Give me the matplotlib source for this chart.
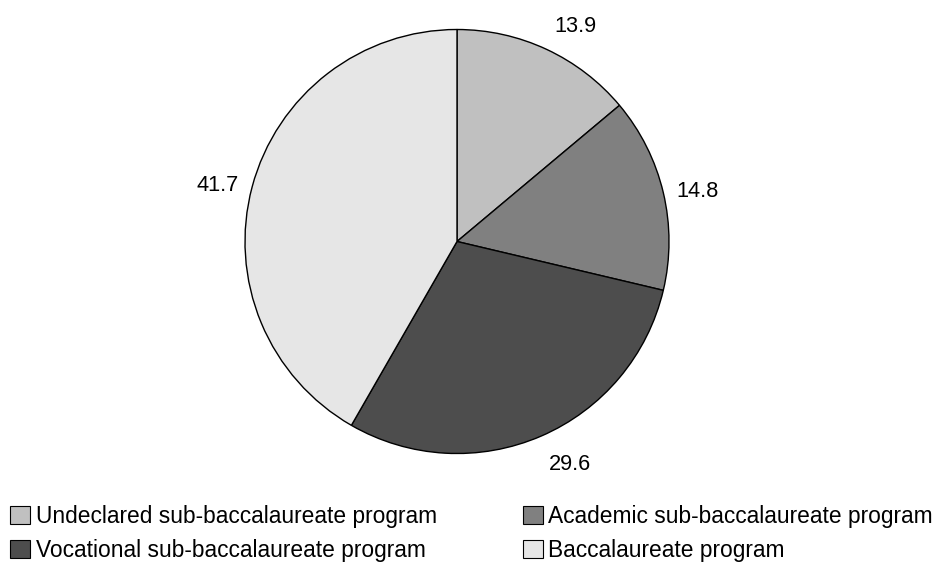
import numpy as np
import matplotlib
matplotlib.use("Agg")
import matplotlib.pyplot as plt
from matplotlib.patches import Patch

plt.rcParams["font.family"] = ["Liberation Sans", "DejaVu Sans"]

labels = ["Undeclared sub-baccalaureate program", "Academic sub-baccalaureate program",
          "Vocational sub-baccalaureate program", "Baccalaureate program"]
values = [13.9, 14.8, 29.6, 41.7]
colors = ["#c0c0c0", "#808080", "#4d4d4d", "#e6e6e6"]

W, H = 935, 565
fig = plt.figure(figsize=(W / 100, H / 100), dpi=100)

# pie centre ~ (457, 241) px, radius ~212 px
cx, cy, r = 457, 241.5, 212
ax = fig.add_axes([(cx - r) / W, (H - cy - r) / H, 2 * r / W, 2 * r / H])
wedges, _ = ax.pie(values, colors=colors, startangle=90, counterclock=False,
                   wedgeprops=dict(edgecolor="black", linewidth=1.0))
ax.set_xlim(-1, 1); ax.set_ylim(-1, 1)
ax.set_aspect("equal")
ax.axis("off")

# excel-like "outside end" labels: nearest corner of the text box sits on the mid-angle ray
for w, v in zip(wedges, values):
  th = np.deg2rad((w.theta1 + w.theta2) / 2)
  c, s = np.cos(th), np.sin(th)
  ha = "left" if c > 0.3 else ("right" if c < -0.3 else "center")
  va = "baseline" if s > 0.5 else ("top" if s < -0.5 else "center_baseline")
  d = 1.09 if abs(s) > 0.5 else 1.065
  ax.text(d * c, d * s, "%.1f" % v, ha=ha, va=va, fontsize=15.7)

# legend: row-wise order -> column-major for ncol=2
order = [0, 2, 1, 3]
handles = [Patch(facecolor=colors[i], edgecolor="black", linewidth=0.8) for i in order]
fig.legend(handles, [labels[i] for i in order], ncol=2, loc="upper left",
           bbox_to_anchor=(10 / W, 1 - 505 / H), frameon=False, fontsize=16.4,
           handlelength=0.88, handleheight=0.88, handletextpad=0.26,
           columnspacing=3.75, labelspacing=0.48, borderpad=0, borderaxespad=0)

plt.savefig("out.png", dpi=100)
